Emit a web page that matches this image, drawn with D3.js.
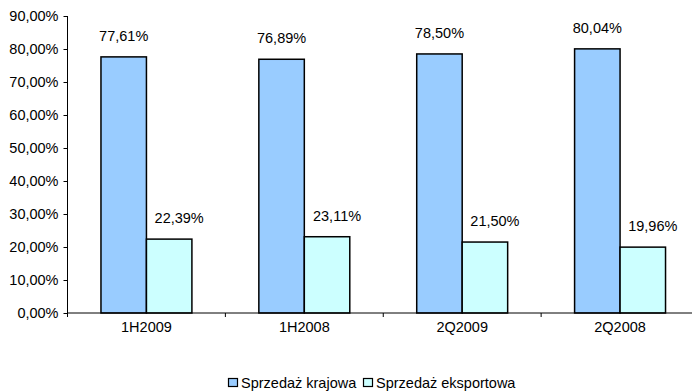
<!DOCTYPE html>
<html>
<head>
<meta charset="utf-8">
<script src="https://cdn.jsdelivr.net/npm/d3@7"></script>
<style>
  html, body { margin: 0; padding: 0; background: #fff; }
  svg { display: block; font-family: "Liberation Sans", Arial, sans-serif; }
</style>
</head>
<body>
<svg id="chart" width="692" height="391"></svg>
<script>
// Sales structure: domestic vs export share per period
const categories = ["1H2009", "1H2008", "2Q2009", "2Q2008"];
const seriesNames = ["Sprzedaż krajowa", "Sprzedaż eksportowa"];
const domestic = [77.61, 76.89, 78.50, 80.04];
const exportShare = [22.39, 23.11, 21.50, 19.96];
const yTicks = [0, 10, 20, 30, 40, 50, 60, 70, 80, 90];
const colors = ["#99ccff", "#ccffff"];

const svg = d3.select("#chart");
const plotLeft = 67.5, plotRight = 699, plotTop = 16, plotBottom = 313;
const fontSize = 14.5;

const fmt = v => d3.format(".2f")(v).replace(".", ",") + "%";

const y = d3.scaleLinear().domain([0, 90]).range([plotBottom, plotTop]);
const x0 = d3.scaleBand().domain(categories).range([plotLeft, plotRight]).paddingInner(0).paddingOuter(0);
const x1 = d3.scaleBand().domain(seriesNames).range([0, x0.bandwidth()]).paddingInner(0).paddingOuter(0.736);

const rows = categories.map((c, i) => ({
  cat: c,
  values: [
    { name: seriesNames[0], v: domestic[i], color: colors[0], dx: 0 },
    { name: seriesNames[1], v: exportShare[i], color: colors[1], dx: 10 }
  ]
}));

// Y axis
const yAxis = d3.axisLeft(y).tickValues(yTicks).tickSize(4).tickPadding(5).tickFormat(fmt);
const gy = svg.append("g").attr("transform", `translate(${plotLeft},0)`).call(yAxis);
gy.select(".domain").attr("d", `M0,${plotTop}V${plotBottom + 4}`).attr("stroke", "#000");
gy.selectAll(".tick line").attr("stroke", "#000");
gy.selectAll(".tick text").attr("font-size", fontSize).attr("fill", "#000")
  .attr("font-family", "Liberation Sans, Arial, sans-serif");

// Bars
const groups = svg.append("g").selectAll("g").data(rows).join("g")
  .attr("transform", d => `translate(${x0(d.cat)},0)`);

groups.selectAll("rect").data(d => d.values).join("rect")
  .attr("x", d => x1(d.name))
  .attr("y", d => y(d.v))
  .attr("width", x1.bandwidth())
  .attr("height", d => plotBottom - y(d.v))
  .attr("fill", d => d.color)
  .attr("stroke", "#000")
  .attr("stroke-width", 1.5);

// Value labels above bars
groups.selectAll("text").data(d => d.values).join("text")
  .attr("x", d => x1(d.name) + x1.bandwidth() / 2 + d.dx)
  .attr("y", d => y(d.v) - 16)
  .attr("text-anchor", "middle")
  .attr("font-size", fontSize)
  .attr("fill", "#000")
  .text(d => fmt(d.v));

// X axis
const gx = svg.append("g");
gx.append("line").attr("x1", plotLeft).attr("x2", 692).attr("y1", plotBottom).attr("y2", plotBottom)
  .attr("stroke", "#000").attr("stroke-width", 1);
gx.selectAll("line.tick").data(categories.slice(1)).join("line")
  .attr("class", "tick")
  .attr("x1", d => x0(d)).attr("x2", d => x0(d))
  .attr("y1", plotBottom).attr("y2", plotBottom + 4)
  .attr("stroke", "#000");
gx.selectAll("text").data(categories).join("text")
  .attr("x", d => x0(d) + x0.bandwidth() / 2)
  .attr("y", plotBottom + 19)
  .attr("text-anchor", "middle")
  .attr("font-size", fontSize)
  .attr("fill", "#000")
  .text(d => d);

// Legend
const legend = svg.append("g").attr("transform", "translate(228,388)");
const legendItems = [
  { name: seriesNames[0], color: colors[0], x: 0 },
  { name: seriesNames[1], color: colors[1], x: 135 }
];
const li = legend.selectAll("g").data(legendItems).join("g")
  .attr("transform", d => `translate(${d.x},0)`);
li.append("rect").attr("x", 0.5).attr("y", -9.5).attr("width", 9).attr("height", 8)
  .attr("fill", d => d.color).attr("stroke", "#000").attr("stroke-width", 1.2);
li.append("text").attr("x", 13).attr("y", 0).attr("font-size", fontSize).attr("fill", "#000")
  .text(d => d.name);
</script>
</body>
</html>
